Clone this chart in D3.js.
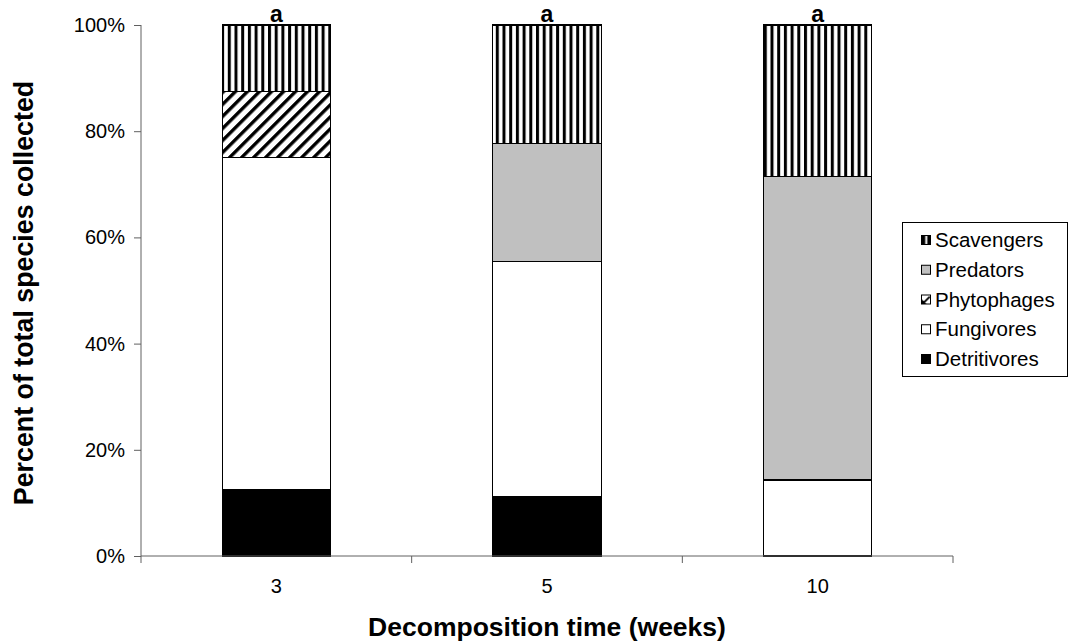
<!DOCTYPE html>
<html><head><meta charset="utf-8">
<script src="https://cdn.jsdelivr.net/npm/d3@7"></script>
<style>
html,body{margin:0;padding:0;background:#fff;}
svg{display:block;font-family:"Liberation Sans",Arial,sans-serif;}
</style></head>
<body>
<svg id="chart" width="1069" height="643"></svg>
<script>
const categories = ["3", "5", "10"];
const groups = ["Detritivores", "Fungivores", "Phytophages", "Predators", "Scavengers"];
const detritivores = [12.5, 11.1, 0];
const fungivores = [62.5, 44.4, 14.3];
const phytophages = [12.5, 0, 0];
const predators = [0, 22.2, 57.1];
const scavengers = [12.5, 22.3, 28.6];
const yTicks = [0, 20, 40, 60, 80, 100];
const sigLetters = ["a", "a", "a"];
const legendOrder = ["Scavengers", "Predators", "Phytophages", "Fungivores", "Detritivores"];

const series = {Detritivores: detritivores, Fungivores: fungivores, Phytophages: phytophages, Predators: predators, Scavengers: scavengers};
const rows = categories.map((c, i) => {
  const r = {cat: c};
  groups.forEach(g => r[g] = series[g][i]);
  return r;
});

const svg = d3.select("#chart");
const defs = svg.append("defs");
// vertical stripes
const pv = defs.append("pattern").attr("id", "vstripe").attr("patternUnits", "userSpaceOnUse")
  .attr("width", 6.7).attr("height", 10);
pv.append("rect").attr("width", 6.7).attr("height", 10).attr("fill", "#fff");
pv.append("rect").attr("x", 0).attr("width", 3).attr("height", 10).attr("fill", "#000");
// legend swatch for vertical stripes
const pvl = defs.append("pattern").attr("id", "vstripeL").attr("patternUnits", "objectBoundingBox")
  .attr("width", 1).attr("height", 1).attr("patternContentUnits", "objectBoundingBox");
pvl.append("rect").attr("width", 1).attr("height", 1).attr("fill", "#000");
pvl.append("rect").attr("x", 0.42).attr("width", 0.22).attr("height", 1).attr("fill", "#fff");
// diagonal stripes
const pd = defs.append("pattern").attr("id", "dstripe").attr("patternUnits", "userSpaceOnUse")
  .attr("width", 8.5).attr("height", 8.5).attr("patternTransform", "rotate(45)");
pd.append("rect").attr("width", 8.5).attr("height", 8.5).attr("fill", "#fff");
pd.append("rect").attr("width", 3.4).attr("height", 8.5).attr("fill", "#000");
// legend swatch for diagonal
const pdl = defs.append("pattern").attr("id", "dstripeL").attr("patternUnits", "objectBoundingBox")
  .attr("width", 1).attr("height", 1).attr("patternContentUnits", "objectBoundingBox");
pdl.append("rect").attr("width", 1).attr("height", 1).attr("fill", "#fff");
pdl.append("path").attr("d", "M0,0.45 L0.55,1 L0,1 Z M0.1,0.85 L0.85,0.1 L1,0.25 L0.25,1 Z").attr("fill", "#000");

const fills = {Detritivores: "#000", Fungivores: "#fff", Phytophages: "url(#dstripe)", Predators: "#c0c0c0", Scavengers: "url(#vstripe)"};
const legendFills = Object.assign({}, fills, {Phytophages: "url(#dstripeL)", Scavengers: "url(#vstripeL)"});

const x = d3.scaleBand().domain(categories).range([141, 953]).paddingInner(0.6).paddingOuter(0.3);
const y = d3.scaleLinear().domain([0, 100]).range([556, 25]);

const stack = d3.stack().keys(groups);
const stacked = stack(rows);

const gBars = svg.append("g");
stacked.forEach(layer => {
  gBars.selectAll(null).data(layer.filter(d => d[1] - d[0] > 0)).enter().append("rect")
    .attr("x", d => x(d.data.cat))
    .attr("y", d => y(d[1]))
    .attr("width", x.bandwidth())
    .attr("height", d => y(d[0]) - y(d[1]))
    .attr("fill", fills[layer.key])
    .attr("stroke", "#000")
    .attr("stroke-width", 1.2)
    .attr("shape-rendering", "crispEdges");
});

// axes
const axisColor = "#606060";
const yAxis = svg.append("g").attr("transform", "translate(141,0)")
  .call(d3.axisLeft(y).tickValues(yTicks).tickFormat(d => d + "%").tickSize(7).tickPadding(9));
yAxis.select(".domain").attr("stroke", axisColor).attr("d", `M0,${y(100)}V${y(0)+7}`);
yAxis.selectAll(".tick line").attr("stroke", axisColor);
yAxis.selectAll(".tick text").attr("font-size", 20).attr("fill", "#000").attr("font-family", "Liberation Sans, Arial, sans-serif");

const xAxisG = svg.append("g").attr("transform", `translate(0,${y(0)})`);
xAxisG.append("line").attr("x1", 141).attr("x2", 953).attr("y1", 0).attr("y2", 0).attr("stroke", axisColor);
const step = x.step();
const bounds = categories.map((c, i) => 141 + step * (i + 1));
xAxisG.selectAll(".bt").data(bounds).enter().append("line")
  .attr("x1", d => d).attr("x2", d => d).attr("y1", 0).attr("y2", 7).attr("stroke", axisColor);
xAxisG.selectAll(".xl").data(categories).enter().append("text")
  .attr("x", d => x(d) + x.bandwidth() / 2).attr("y", 37)
  .attr("text-anchor", "middle").attr("font-size", 20).text(d => d);

// significance letters
svg.selectAll(".sig").data(categories).enter().append("text")
  .attr("x", d => x(d) + x.bandwidth() / 2).attr("y", y(100) - 3)
  .attr("text-anchor", "middle").attr("font-size", 23).attr("font-weight", "bold").text((d, i) => sigLetters[i]);

// axis titles
svg.append("text").attr("x", 547).attr("y", 636).attr("text-anchor", "middle")
  .attr("font-size", 26.5).attr("font-weight", "bold").text("Decomposition time (weeks)");
svg.append("text").attr("transform", "translate(33,293) rotate(-90)").attr("text-anchor", "middle")
  .attr("font-size", 26.8).attr("font-weight", "bold").text("Percent of total species collected");

// legend
const lg = svg.append("g");
lg.append("rect").attr("x", 902.5).attr("y", 222.5).attr("width", 165).attr("height", 154)
  .attr("fill", "#fff").attr("stroke", "#000").attr("stroke-width", 1);
const ly = d3.scalePoint().domain(legendOrder).range([240, 359]);
legendOrder.forEach(k => {
  lg.append("rect").attr("x", 921.5).attr("y", ly(k) - 4.5).attr("width", 9).attr("height", 9)
    .attr("fill", legendFills[k]).attr("stroke", "#000").attr("stroke-width", 1);
  lg.append("text").attr("x", 935).attr("y", ly(k) + 7).attr("font-size", 20.5).text(k);
});
</script>
</body></html>
